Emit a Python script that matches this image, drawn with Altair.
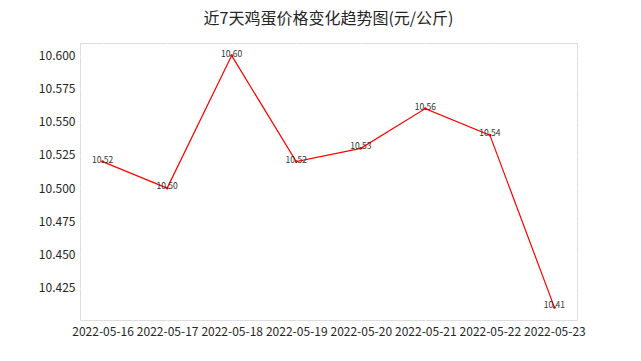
import altair as alt
import pandas as pd

dates = ["2022-05-16", "2022-05-17", "2022-05-18", "2022-05-19",
         "2022-05-20", "2022-05-21", "2022-05-22", "2022-05-23"]
prices = [10.52, 10.50, 10.60, 10.52, 10.53, 10.56, 10.54, 10.41]
y_ticks = [10.425, 10.450, 10.475, 10.500, 10.525, 10.550, 10.575, 10.600]

df = pd.DataFrame({"date": dates, "price": prices})
df["label"] = [f"{p:.2f}" for p in prices]

FONT = "Noto Sans CJK SC"

x = alt.X("date:N", title=None,
          scale=alt.Scale(type="point", padding=0.35),
          axis=alt.Axis(labelAngle=0, grid=True, gridColor="white", gridWidth=1,
                        domain=False, ticks=False, labelPadding=6,
                        labelFontSize=12, labelColor="#262626", labelFont=FONT))
y = alt.Y("price:Q", title=None,
          scale=alt.Scale(domain=[10.4005, 10.6095], nice=False, zero=False),
          axis=alt.Axis(values=y_ticks, format=".3f", grid=True, gridColor="white",
                        gridWidth=1, domain=False, ticks=False, labelPadding=5,
                        labelFontSize=12, labelColor="#262626", labelFont=FONT))

base = alt.Chart(df).encode(x=x, y=y)

line = base.mark_line(color="red", strokeWidth=1.2)
pts = base.mark_point(color="red", filled=True, size=8, opacity=1)
txt = base.mark_text(fontSize=8.5, font=FONT, color="#333333",
                     baseline="alphabetic", dy=1).encode(text="label:N")

chart = (line + pts + txt).properties(
    width=497, height=277,
    title=alt.TitleParams("近7天鸡蛋价格变化趋势图(元/公斤)", font=FONT, fontSize=16,
                          fontWeight="normal", color="#262626", offset=16),
    autosize=alt.AutoSizeParams(type="none"),
    padding={"left": 80, "top": 43, "right": 64, "bottom": 41},
).configure_view(fill="#EAEAF2", stroke=None).configure(background="white")

chart.save("out.html", embed_options={"renderer": "svg", "actions": False})
